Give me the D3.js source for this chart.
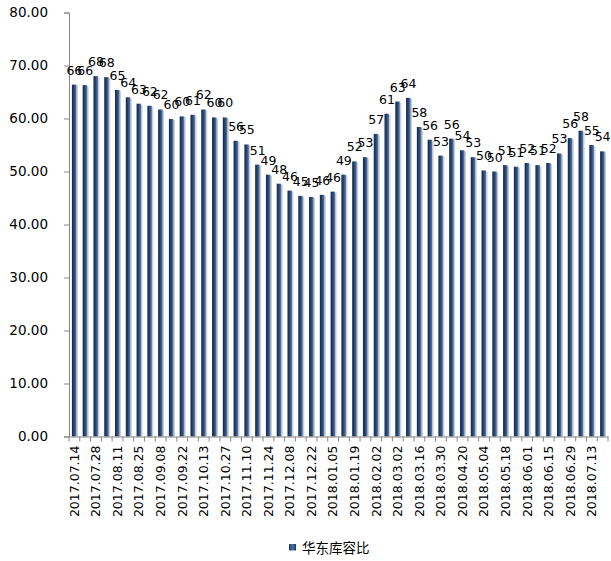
<!DOCTYPE html>
<html><head><meta charset="utf-8">
<script src="https://cdn.jsdelivr.net/npm/d3@7"></script>
<style>body{margin:0;background:#fff}svg{display:block}</style>
</head><body>
<svg id="chart" width="611" height="561"></svg>
<script>
const categories = ["2017.07.14","2017.07.21","2017.07.28","2017.08.04","2017.08.11","2017.08.18","2017.08.25","2017.09.01","2017.09.08","2017.09.15","2017.09.22","2017.09.29","2017.10.13","2017.10.20","2017.10.27","2017.11.03","2017.11.10","2017.11.17","2017.11.24","2017.12.01","2017.12.08","2017.12.15","2017.12.22","2017.12.29","2018.01.05","2018.01.12","2018.01.19","2018.01.26","2018.02.02","2018.02.09","2018.03.02","2018.03.09","2018.03.16","2018.03.23","2018.03.30","2018.04.13","2018.04.20","2018.04.27","2018.05.04","2018.05.11","2018.05.18","2018.05.25","2018.06.01","2018.06.08","2018.06.15","2018.06.22","2018.06.29","2018.07.06","2018.07.13","2018.07.20"];
const values = [66.4,66.3,68.0,67.8,65.4,64.0,62.8,62.4,61.7,59.9,60.4,60.7,61.7,60.2,60.2,55.8,55.1,51.3,49.4,47.7,46.4,45.4,45.2,45.6,46.2,49.4,51.9,52.7,57.1,60.9,63.2,63.9,58.4,56.0,53.0,56.2,54.0,52.7,50.2,50.0,51.2,50.9,51.6,51.2,51.6,53.4,56.3,57.7,55.0,53.8];
const yTicks = [0,10,20,30,40,50,60,70,80];
const seriesName = "华东库容比";

const svg = d3.select("#chart");
const x = d3.scaleBand().domain(categories).range([69, 608]).paddingInner(0).paddingOuter(0);
const y = d3.scaleLinear().domain([0, 80]).range([436.5, 12.5]);

const defs = svg.append("defs");
const g1 = defs.append("linearGradient").attr("id","barGrad").attr("x1","0").attr("x2","1").attr("y1","0").attr("y2","0");
g1.append("stop").attr("offset","0%").attr("stop-color","#132848");
g1.append("stop").attr("offset","55%").attr("stop-color","#2a4a78");
g1.append("stop").attr("offset","100%").attr("stop-color","#5f7fab");

const bw = 4.5;
// shadows
svg.append("g").selectAll("rect").data(values).join("rect")
  .attr("x", (d,i)=> x(categories[i]) + x.bandwidth()/2 - 2.5 + 1.5)
  .attr("y", d=> y(d) + 1)
  .attr("width", bw)
  .attr("height", d=> y(0) - y(d) - 1)
  .attr("fill", "#c9ced6");
svg.append("g").selectAll("rect").data(values).join("rect")
  .attr("x", (d,i)=> x(categories[i]) + x.bandwidth()/2 - 2.5)
  .attr("y", d=> y(d))
  .attr("width", bw)
  .attr("height", d=> y(0) - y(d))
  .attr("fill", "url(#barGrad)");

// y axis
const yAxis = d3.axisLeft(y).tickValues(yTicks).tickFormat(d3.format(".2f")).tickSizeOuter(0).tickSize(5).tickPadding(16);
const ya = svg.append("g").attr("transform","translate(69,0)").call(yAxis);
ya.select(".domain").attr("stroke","#868686");
ya.selectAll(".tick line").attr("stroke","#868686");
ya.selectAll("text").attr("font-family","DejaVu Sans, Verdana, sans-serif").attr("font-size","13.5px").attr("fill","#000");

// x axis
const xAxis = d3.axisBottom(x).tickValues(categories.filter((c,i)=>i%2===0)).tickSize(0).tickSizeOuter(0);
const xa = svg.append("g").attr("transform","translate(0,436.5)").call(xAxis);
xa.select(".domain").attr("stroke","#868686");
xa.selectAll(".tick text")
  .attr("font-family","DejaVu Sans, Verdana, sans-serif").attr("font-size","12.5px").attr("fill","#000")
  .attr("text-anchor","end").attr("transform","rotate(-90)")
  .attr("x",-9).attr("y",0).attr("dy","0.35em");
// boundary ticks
const bounds = categories.map(c=>x(c)).concat([x.range()[1]]);
xa.append("g").selectAll("line").data(bounds).join("line")
  .attr("x1",d=>d).attr("x2",d=>d).attr("y1",0).attr("y2",5).attr("stroke","#868686");

// data labels
svg.append("g").selectAll("text").data(values).join("text")
  .attr("x",(d,i)=> x(categories[i]) + x.bandwidth()/2)
  .attr("y", d=> y(d) - 10)
  .attr("text-anchor","middle")
  .attr("font-family","DejaVu Sans, Verdana, sans-serif").attr("font-size","12.5px").attr("fill","#000")
  .text(d=> d3.format(".0f")(d));

// legend
const lg = svg.append("g");
const g2 = defs.append("linearGradient").attr("id","legGrad").attr("x1","0").attr("x2","1");
g2.append("stop").attr("offset","0%").attr("stop-color","#1e3a64");
g2.append("stop").attr("offset","50%").attr("stop-color","#4a72aa");
g2.append("stop").attr("offset","100%").attr("stop-color","#1e3a64");
lg.append("rect").attr("x",289).attr("y",544).attr("width",7).attr("height",6.5).attr("fill","url(#legGrad)");
lg.append("text").attr("x",302).attr("y",552.5).attr("font-family","Noto Sans CJK SC, sans-serif").attr("font-size","13.5px").attr("fill","#000").text(seriesName);
</script>
</body></html>
